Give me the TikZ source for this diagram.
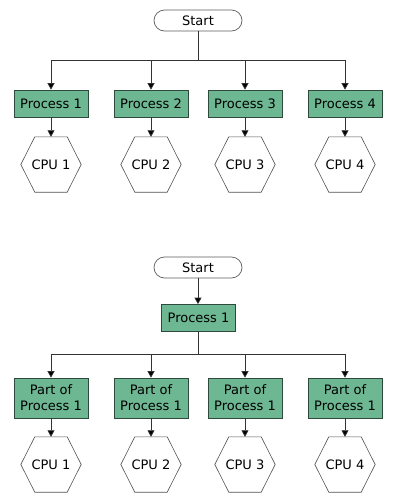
\documentclass[tikz,border=0pt]{standalone}
\usepackage{fontspec}
\setmainfont{DejaVu Sans}
\usetikzlibrary{arrows.meta,calc,shapes.misc}
\definecolor{procgreen}{HTML}{6DB792}
\definecolor{procedge}{HTML}{2E4A3C}
\definecolor{lineg}{HTML}{333333}
\tikzset{
  startbox/.style={draw=lineg!80, rounded rectangle, minimum width=88pt, minimum height=21pt, inner sep=0pt, font=\fontsize{13}{15}\selectfont, line width=0.7pt},
  procbox/.style={draw=procedge, fill=procgreen, minimum width=74pt, minimum height=27pt, inner sep=0pt, font=\fontsize{13}{15}\selectfont, align=center, line width=0.7pt},
  partbox/.style={procbox, minimum height=40pt, font=\fontsize{13}{16}\selectfont},
  cpubox/.style={minimum width=60pt, minimum height=55pt, inner sep=0pt, font=\fontsize{13}{15}\selectfont},
  hexline/.style={draw=lineg!85, line width=0.6pt},
  conn/.style={draw=lineg, line width=0.7pt},
  arr/.style={conn, -{Triangle[width=7pt,length=6.5pt,fill=black]}},
}
\newcommand{\hexaround}[1]{%
  \draw[hexline] (#1.west) -- ($(#1.north west)+(14pt,0)$) -- ($(#1.north east)+(-14pt,0)$) -- (#1.east) -- ($(#1.south east)+(-14pt,0)$) -- ($(#1.south west)+(14pt,0)$) -- cycle;}
\begin{document}
\begin{tikzpicture}[x=1pt,y=-1pt]
\useasboundingbox (0,0) rectangle (400,501);
% ---------- top diagram ----------
\node[startbox] (s1) at (198,20.5) {Start};
\foreach \i/\x in {1/51,2/151,3/245,4/345}{
  \node[procbox] (p\i) at (\x,103.5) {Process \i};
  \node[cpubox] (c\i) at (\x,164.5) {CPU \i};
  \hexaround{c\i}
  \coordinate (j\i) at (\x,60);
  \draw[arr] (j\i) -- (p\i.north);
  \draw[arr] (p\i.south) -- (c\i.north);
}
\draw[conn] (s1.south) -- (s1.south |- j1);
\draw[conn] (j1) -- (j4);
% ---------- bottom diagram ----------
\node[startbox] (s2) at (198,267.5) {Start};
\node[procbox] (q0) at (198.5,318) {Process 1};
\draw[arr] (s2.south) -- (s2.south |- q0.north);
\foreach \i/\x in {1/51,2/151,3/245,4/345}{
  \node[partbox] (q\i) at (\x,398) {Part of\\Process 1};
  \node[cpubox] (d\i) at (\x,464.5) {CPU \i};
  \hexaround{d\i}
  \coordinate (k\i) at (\x,354);
  \draw[arr] (k\i) -- (q\i.north);
  \draw[arr] (q\i.south) -- (d\i.north);
}
\draw[conn] (q0.south) -- (q0.south |- k1);
\draw[conn] (k1) -- (k4);
\end{tikzpicture}
\end{document}
